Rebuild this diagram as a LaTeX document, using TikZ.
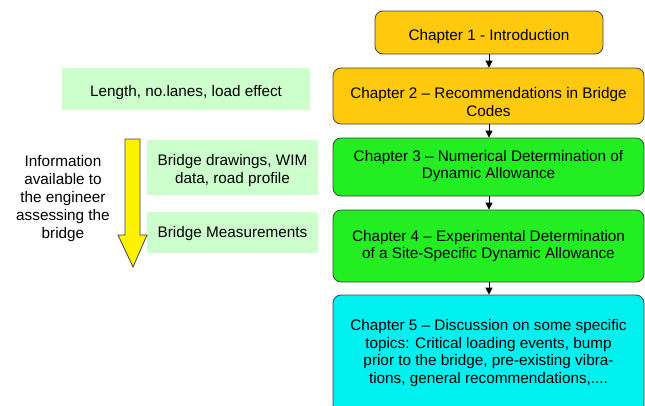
\documentclass[tikz,border=0pt]{standalone}
\usepackage{fontspec}
\setmainfont{Liberation Sans}
\usetikzlibrary{arrows.meta}
\definecolor{gold}{HTML}{FFC90E}
\definecolor{lime}{HTML}{22EE22}
\definecolor{aqua}{HTML}{00F0F0}
\definecolor{pale}{HTML}{CCFFCC}
\definecolor{edge}{HTML}{404040}
\begin{document}
\begin{tikzpicture}[x=1pt,y=-1pt,
  chap/.style={draw=edge,line width=0.8pt,rounded corners=8pt,inner sep=0pt},
  info/.style={fill=pale,draw=none,inner sep=0pt},
  txt/.style={align=center,inner sep=0pt,font=\fontsize{15.3}{17.5}\selectfont},
  link/.style={-{Triangle[length=7pt,width=7pt]},line width=0.8pt,black}]
\useasboundingbox (0,0) rectangle (645,405);
\node[chap,fill=gold,minimum width=228pt,minimum height=43pt] (b1) at (489,32.5) {};
\node[chap,fill=gold,minimum width=311pt,minimum height=56pt] (b2) at (488.5,96) {};
\node[chap,fill=lime,minimum width=311pt,minimum height=58pt] (b3) at (488.5,167) {};
\node[chap,fill=lime,minimum width=311pt,minimum height=72pt] (b4) at (488.5,246) {};
\node[chap,fill=aqua,minimum width=311pt,minimum height=118pt] (b5) at (488.5,354) {};
\node[txt] (t1) at ([yshift=-4pt]b1.center) {Chapter 1 - Introduction};
\node[txt] (t2) at ([yshift=-6pt]b2.center) {Chapter 2 – Recommendations in Bridge\\Codes};
\node[txt] (t3) at ([yshift=1pt]b3.center) {Chapter 3 – Numerical Determination of\\Dynamic Allowance};
\node[txt] (t4) at (b4.center) {Chapter 4 – Experimental Determination\\of a Site-Specific Dynamic Allowance};
\node[txt] (t5) at ([yshift=1pt]b5.center) {Chapter 5 – Discussion on some specific\\topics: Critical loading events, bump\\prior to the bridge, pre-existing vibra-\\tions, general recommendations,....};
\draw[link] (b1.south) -- (b1.south |- b2.north);
\draw[link] (b2.south -| b1.south) -- (b1.south |- b3.north);
\draw[link] (b3.south -| b1.south) -- (b1.south |- b4.north);
\draw[link] (b4.south -| b1.south) -- (b1.south |- b5.north);
\node[info,minimum width=248pt,minimum height=42pt] (ia) at (186,89) {};
\node[info,minimum width=171pt,minimum height=55pt] (ib) at (232.5,167.5) {};
\node[info,minimum width=171pt,minimum height=41pt] (ic) at (232.5,232.5) {};
\node[txt] (ta) at ([yshift=-4pt]ia.center) {Length, no.lanes, load effect};
\node[txt] (tb) at ([yshift=-3pt]ib.center) {Bridge drawings, WIM\\data, road profile};
\node[txt] (tc) at ([yshift=-1pt]ic.center) {Bridge Measurements};
\draw[draw=edge,line width=0.8pt,fill=yellow] (125,139) -- (140,139) -- (140,235) -- (147,235) -- (133,267) -- (118,235) -- (125,235) -- cycle;
\node[align=center,inner sep=0pt,font=\fontsize{15.3}{18}\selectfont] (lt) at (63,199) {Information\\available to\\the engineer\\assessing the\\bridge};
\end{tikzpicture}
\end{document}
